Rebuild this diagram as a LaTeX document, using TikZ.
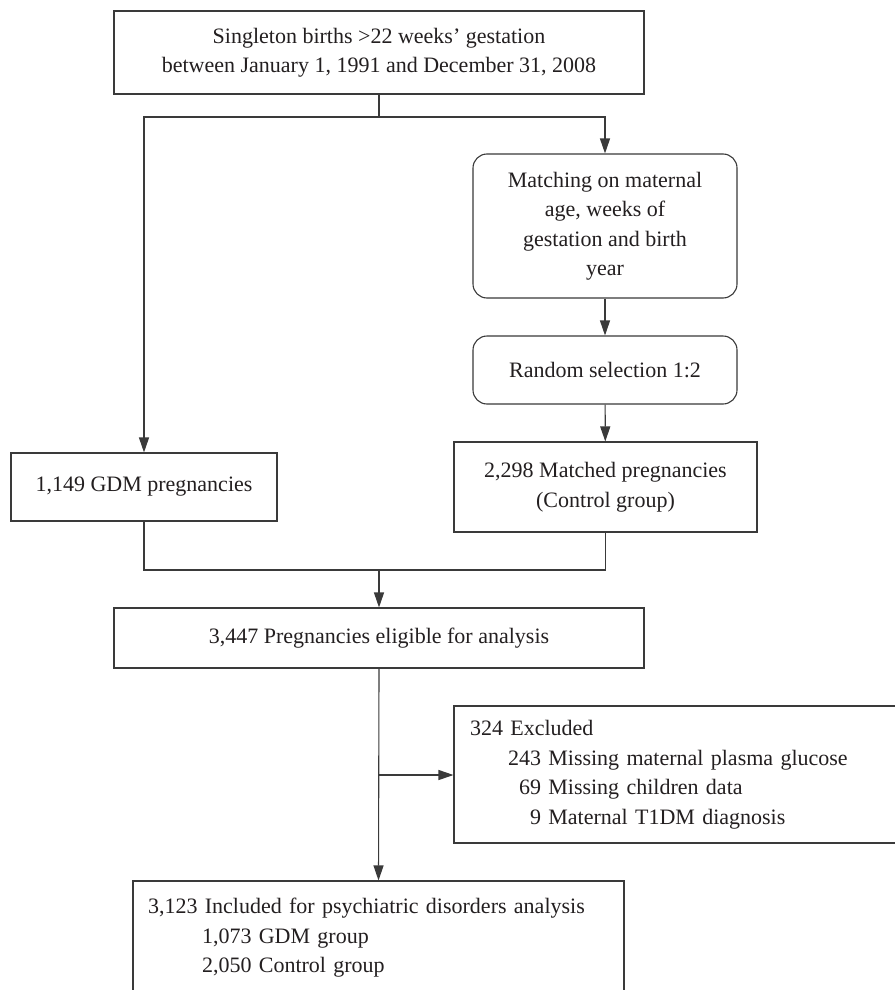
\documentclass[tikz,border=0pt]{standalone}
\usepackage{fontspec}
\setmainfont{Liberation Serif}
\usetikzlibrary{arrows.meta}
\definecolor{linec}{HTML}{3A3A3A}
\definecolor{textc}{HTML}{231F20}
\begin{document}
\begin{tikzpicture}[x=1pt,y=-1pt,
  box/.style={draw=linec, line width=1.1pt, text=textc, align=center, inner sep=0pt,
    font=\fontsize{22}{29.5}\selectfont},
  rbox/.style={box, rounded corners=14pt},
  conn/.style={draw=linec, line width=1.1pt},
  arr/.style={conn, -{Triangle[length=15pt,width=10pt]}}]
\useasboundingbox[fill=white] (0,0) rectangle (894,990);

\node[box, minimum width=530pt, minimum height=83pt] (top) at (379,52.5)
  {Singleton births >22 weeks’ gestation\\between January 1, 1991 and December 31, 2008};
\node[rbox, minimum width=264pt, minimum height=144pt] (match) at (605,226)
  {Matching on maternal\\age, weeks of\\gestation and birth\\year};
\node[rbox, minimum width=264pt, minimum height=68pt] (random) at (605,370)
  {Random selection 1:2};
\node[box, minimum width=303pt, minimum height=90pt] (control) at (605.5,487)
  {2,298 Matched pregnancies\\(Control group)};
\node[box, minimum width=266pt, minimum height=68pt] (gdm) at (144,487)
  {1,149 GDM pregnancies};
\node[box, minimum width=530pt, minimum height=60pt] (elig) at (379,638)
  {3,447 Pregnancies eligible for analysis};
\node[box, align=left, minimum width=460pt, minimum height=137pt, text width=428pt,
  inner xsep=16pt] (excl) at (684,774.5)
  {324 Excluded\\
   \hspace*{37pt}\makebox[34pt][r]{243} Missing maternal plasma glucose\\
   \hspace*{37pt}\makebox[34pt][r]{69} Missing children data\\
   \hspace*{37pt}\makebox[34pt][r]{9} Maternal T1DM diagnosis};
\node[box, align=left, minimum width=491pt, minimum height=114pt, text width=461pt,
  inner xsep=15pt] (incl) at (378.5,938)
  {3,123 Included for psychiatric disorders analysis\\
   \hspace*{54pt}1,073 GDM group\\
   \hspace*{54pt}2,050 Control group};

\coordinate (split) at (379,117);
\coordinate (merge) at (379,570);
\coordinate (branch) at (379,775);

\draw[conn] (top.south) -- (split);
\draw[arr] (split) -| (gdm.north);
\draw[arr] (split) -| (match.north);
\draw[arr] (match) -- (random);
\draw[arr] (random) -- (control);
\draw[conn] (gdm.south) |- (merge);
\draw[conn] (control.south) |- (merge);
\draw[arr] (merge) -- (elig.north);
\draw[arr] (elig.south) -- (incl.north);
\draw[arr] (branch) -- (branch -| excl.west);
\end{tikzpicture}
\end{document}
